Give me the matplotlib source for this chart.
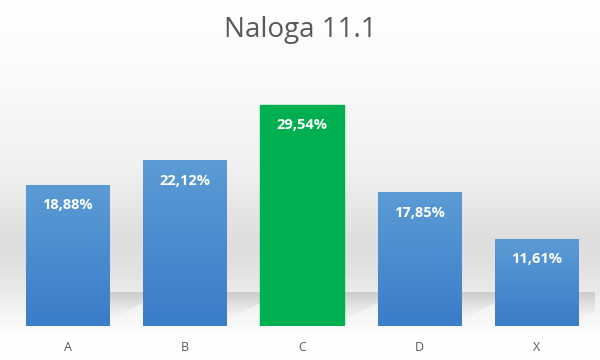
import numpy as np
import matplotlib
matplotlib.use("Agg")
import matplotlib.pyplot as plt
from matplotlib.colors import LinearSegmentedColormap
from matplotlib.patches import Polygon

categories = ["A", "B", "C", "D", "X"]
values = [18.88, 22.12, 29.54, 17.85, 11.61]
labels = ["18,88%", "22,12%", "29,54%", "17,85%", "11,61%"]
highlight = "C"

fig = plt.figure(figsize=(6, 3.6), dpi=100)

# background gradient (figure coordinates)
bg = fig.add_axes([0, 0, 1, 1], zorder=-10)
bg.set_axis_off()
ys = np.array([0, 80, 170, 240, 265, 290, 310, 326, 334, 360])  # pixel rows from top
cs = np.array([255, 250, 240, 222, 225, 234, 244, 250, 254, 255]) / 255.0
rows = np.interp(np.arange(360), ys, cs)
img = np.repeat(rows[:, None], 600, axis=1)
bg.imshow(np.dstack([img, img, img]), extent=[0, 600, 360, 0], aspect="auto")
bg.set_xlim(0, 600)
bg.set_ylim(360, 0)

# plot area: x 8.85..595, y 64..326 px
L, R, T, B = 8.85, 595, 64, 326
ax = fig.add_axes([L / 600, 1 - B / 360, (R - L) / 600, (B - T) / 360])
ax.patch.set_alpha(0)
ax.set_xlim(-0.5, len(categories) - 0.5)
ax.set_ylim(0, 35)
x = np.arange(len(categories))
bars = ax.bar(x, values, width=0.71, color="#5b9bd5", zorder=3)

pxx = 5 / (R - L)   # data units per pixel in x
pxy = 35 / (B - T)  # data units per pixel in y

blue = LinearSegmentedColormap.from_list("b", ["#3a7dc8", "#5b9bd5"])
grad = np.linspace(0, 1, 256)[:, None]
shadow = np.zeros((256, 2, 4))
shadow[..., :3] = 0.45
shadow[..., 3] = np.linspace(0.0, 0.36, 256)[:, None] ** 1.3

for b, cat in zip(bars, categories):
    x0, w, h = b.get_x(), b.get_width(), b.get_height()
    xr = x0 + w
    # perspective floor shadow to the right of each bar
    poly = Polygon([(xr, 6 * pxy), (xr + 36 * pxx, 24 * pxy),
                    (xr + 36 * pxx, 34 * pxy), (xr, 34 * pxy)],
                   closed=True, facecolor="none", edgecolor="none")
    ax.add_patch(poly)
    sim = ax.imshow(shadow, extent=[xr, xr + 36 * pxx, 6 * pxy, 34 * pxy],
                    origin="lower", aspect="auto", zorder=2,
                    interpolation="bilinear")
    sim.set_clip_path(poly)
    if cat == highlight:
        b.set_color("#00b050")
    else:
        b.set_facecolor("none")
        im = ax.imshow(grad, cmap=blue, extent=[x0, xr, 0, h],
                       origin="lower", aspect="auto", zorder=3)
        im.set_clip_path(b)

ax.set_xlim(-0.5, len(categories) - 0.5)
ax.set_ylim(0, 35)

for xi, v, lab in zip(x, values, labels):
    ax.annotate(lab, (xi, v), xytext=(0, -14.5), textcoords="offset points",
                ha="center", va="center", color="white", fontsize=10.5,
                fontweight="bold", family="Open Sans", zorder=5)

ax.set_xticks(x)
ax.set_xticklabels(categories, color="#595959", fontsize=9, family="Open Sans")
ax.tick_params(axis="x", length=0, pad=11)
ax.set_yticks([])
for s in ax.spines.values():
    s.set_visible(False)

fig.text(0.5, 1 - 30 / 360, "Naloga 11.1", ha="center", va="center",
         fontsize=20, color="#595959", family="Open Sans")

fig.savefig("out.png", dpi=100)
